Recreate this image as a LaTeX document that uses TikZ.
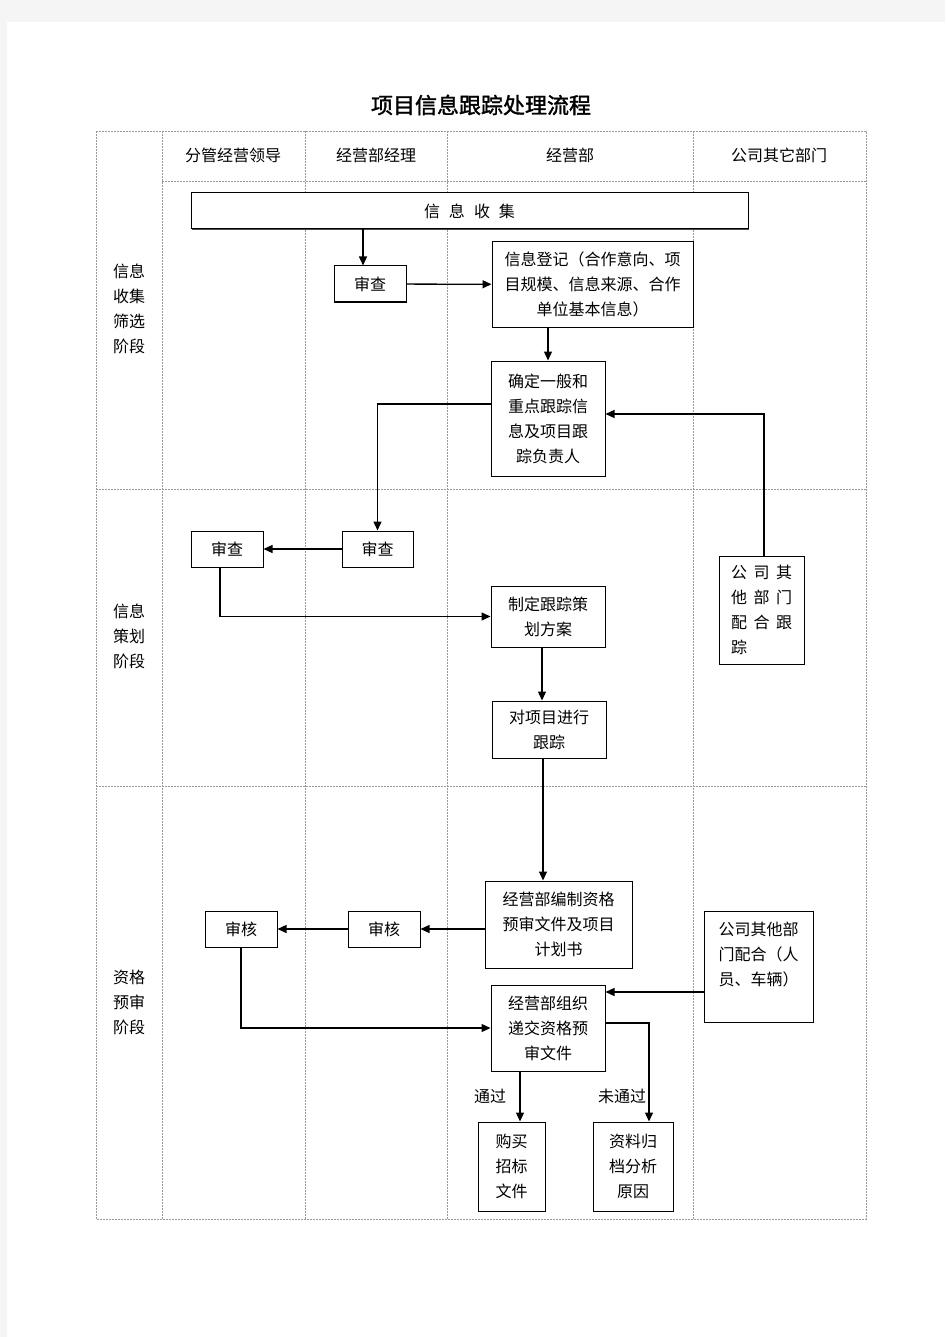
\documentclass[tikz,border=0pt]{standalone}
\usepackage{fontspec}
\setmainfont{Noto Sans CJK SC}
\newfontfamily\titlefont[FakeBold=1.5]{Noto Sans CJK SC}
\usetikzlibrary{arrows.meta,shadows}
\newcommand\chgap{\hspace{6.5pt}}

\begin{document}
\begin{tikzpicture}[x=1pt, y=-1pt,
    every node/.style={font=\fontsize{16}{25}\selectfont},
    box/.style={draw, line width=1pt, fill=white, align=center, inner sep=0pt,
        drop shadow={shadow xshift=1.2pt, shadow yshift=-1.2pt, fill=black!70, opacity=1}},
    lane/.style={draw=black!40, dash pattern=on 2pt off 1pt, line width=0.7pt},
    flow/.style={line width=1.3pt, -{Triangle[length=9pt,width=8pt]}}]
    % page
    \fill[black!4] (0,0) rectangle (945,1337);
    \fill[white] (7,22) rectangle (945,1337);
    \useasboundingbox (0,0) rectangle (945,1337);
    % swimlanes
    \draw[lane] (96,131) rectangle (866,1219);
    \foreach \x in {162,305,447,693}
        \draw[lane] (\x,131) -- (\x,1219);
    \draw[lane] (162,181) -- (866,181);
    \foreach \y in {489,786}
        \draw[lane] (96,\y) -- (866,\y);
    % title and headers
    \node (title) at (481,105) {\titlefont\fontsize{22}{26}\selectfont 项目信息跟踪处理流程};
    \node (lead) at (233,155) {分管经营领导};
    \node (mgr) at (376,155) {经营部经理};
    \node (dept) at (570,155) {经营部};
    \node (others) at (779,155) {公司其它部门};
    \node[align=center] (stage1) at (129,309) {信息\\收集\\筛选\\阶段};
    \node[align=center] (stage2) at (129,636) {信息\\策划\\阶段};
    \node[align=center] (stage3) at (129,1002) {资格\\预审\\阶段};
    % boxes
    \node[box, minimum width=557, minimum height=36] (collect) at (469.5,211)
        {信\hspace{9pt}息\hspace{9pt}收\hspace{9pt}集};
    \node[box, minimum width=72, minimum height=36] (rev1) at (370,284) {审查};
    \node[box, minimum width=201, minimum height=85] (reg) at (592.5,284.5)
        {信息登记（合作意向、项\\目规模、信息来源、合作\\单位基本信息）};
    \node[box, minimum width=114, minimum height=115] (det) at (548,418.5)
        {确定一般和\\重点跟踪信\\息及项目跟\\踪负责人};
    \node[box, minimum width=71, minimum height=36] (rev3) at (377.5,549) {审查};
    \node[box, minimum width=72, minimum height=36] (rev2) at (227,549) {审查};
    \node[box, minimum width=114, minimum height=61] (plan) at (548,616.5)
        {制定跟踪策\\划方案};
    \node[box, minimum width=85, minimum height=108, align=left] (help1) at (761.5,610)
        {公\chgap 司\chgap 其\\他\chgap 部\chgap 门\\配\chgap 合\chgap 跟\\踪};
    \node[box, minimum width=114, minimum height=57] (track) at (549,729.5)
        {对项目进行\\跟踪};
    \node[box, minimum width=147, minimum height=87] (prep) at (558.5,924.5)
        {经营部编制资格\\预审文件及项目\\计划书};
    \node[box, minimum width=72, minimum height=36] (aud2) at (384,929) {审核};
    \node[box, minimum width=72, minimum height=36] (aud1) at (241,929) {审核};
    \node[box, minimum width=109, minimum height=111, align=left] (help2) at (758.5,966.5)
        {公司其他部\\门配合（人\\员、车辆）\\\mbox{}};
    \node[box, minimum width=114, minimum height=86] (submit) at (548,1028)
        {经营部组织\\递交资格预\\审文件};
    \node[box, minimum width=67, minimum height=89] (buy) at (511.5,1166.5)
        {购买\\招标\\文件};
    \node[box, minimum width=80, minimum height=89] (arch) at (633,1166.5)
        {资料归\\档分析\\原因};
    \node (pass) at (490,1096) {通过};
    \node (fail) at (622,1096) {未通过};
    % connectors
    \draw[flow] (collect.south -| 363,0) -- (rev1.north -| 363,0);
    \draw[flow] (rev1) -- (reg);
    \draw[flow] (reg.south -| det.north) -- (det.north);
    \draw[flow] (det.west |- 0,404) -| (rev3);
    \draw[flow] (help1.north -| 764,0) |- (det.east |- 0,414);
    \draw[flow] (rev3) -- (rev2);
    \draw[flow] (rev2.south -| 220,0) |- (plan);
    \draw[flow] (plan.south -| 542,0) -- (track.north -| 542,0);
    \draw[flow] (track.south -| 543,0) -- (prep.north -| 543,0);
    \draw[flow] (prep.west |- aud2) -- (aud2);
    \draw[flow] (aud2) -- (aud1);
    \draw[flow] (aud1) |- (submit);
    \draw[flow] (help2.west |- 0,992) -- (submit.east |- 0,992);
    \draw[flow] (submit.east |- 0,1023) -| (arch.north -| 649,0);
    \draw[flow] (submit.south -| 520,0) -- (buy.north -| 520,0);
\end{tikzpicture}
\end{document}
